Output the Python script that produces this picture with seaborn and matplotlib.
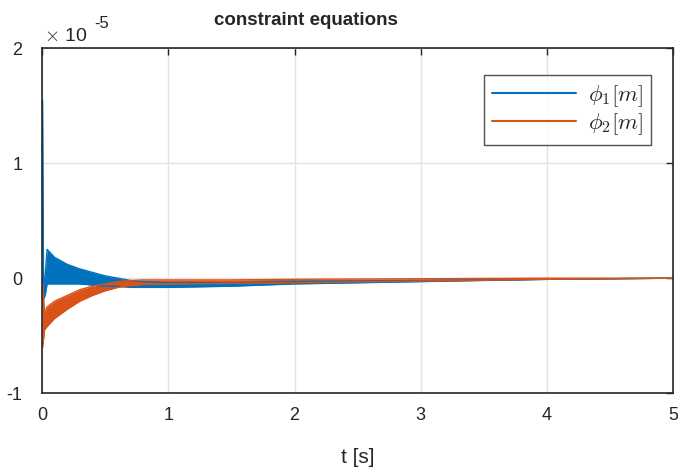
import pandas as pd
import matplotlib
matplotlib.use("Agg")
import matplotlib.pyplot as plt
import seaborn as sns
from matplotlib.lines import Line2D

# constraint residuals, in units of 1e-5 m, read as upper / lower envelope of the oscillation band
t_phi1 = [0, 0.004, 0.012, 0.025, 0.04, 0.1, 0.2, 0.3, 0.4, 0.5, 0.6, 0.7, 0.8, 1.0, 1.5, 2.0, 3.0, 4.0, 5.0]
phi1_hi = [1.55, 1.55, 0.0, 0.02, 0.25, 0.18, 0.12, 0.08, 0.05, 0.02, 0.0, -0.02, -0.03, -0.04, -0.04, -0.03, -0.02, -0.01, 0.0]
phi1_lo = [0.0, 0.0, -0.18, -0.15, -0.05, -0.05, -0.05, -0.05, -0.06, -0.07, -0.07, -0.08, -0.08, -0.08, -0.07, -0.05, -0.03, -0.01, 0.0]

t_phi2 = [0, 0.005, 0.02, 0.04, 0.1, 0.2, 0.3, 0.4, 0.5, 0.6, 0.7, 0.8, 1.0, 1.5, 2.0, 3.0, 4.0, 5.0]
phi2_hi = [-0.05, -0.05, -0.3, -0.25, -0.2, -0.15, -0.1, -0.07, -0.05, -0.03, -0.02, -0.015, -0.015, -0.015, -0.01, -0.005, 0.0, 0.0]
phi2_lo = [-0.6, -0.6, -0.45, -0.42, -0.35, -0.27, -0.2, -0.15, -0.11, -0.08, -0.065, -0.055, -0.05, -0.045, -0.04, -0.025, -0.01, 0.0]

series_names = [r"$\phi_1[m]$", r"$\phi_2[m]$"]
colors = ["#0072BD", "#D95319"]

x_ticks = [0, 1, 2, 3, 4, 5]
y_ticks = [-1, 0, 1, 2]

sns.set_theme(style="white")
plt.rcParams["font.family"] = ["Liberation Sans", "DejaVu Sans"]
plt.rcParams["mathtext.fontset"] = "cm"

fig = plt.figure(figsize=(6.78, 4.72), dpi=100)
ax = fig.add_axes([0.062, 0.167, 0.931, 0.731])

for t, hi, lo, col in [(t_phi1, phi1_hi, phi1_lo, colors[0]),
                       (t_phi2, phi2_hi, phi2_lo, colors[1])]:
    df = pd.DataFrame({"t": t + t, "val": hi + lo,
                       "edge": ["hi"] * len(t) + ["lo"] * len(t)})
    sns.lineplot(data=df, x="t", y="val", units="edge", estimator=None,
                 color=col, lw=1.0, ax=ax, legend=False)
    ax.fill_between(t, lo, hi, color=col, lw=0)

ax.set_xlim(0, 5)
ax.set_ylim(-1, 2)
ax.set_xticks(x_ticks)
ax.set_yticks(y_ticks)
ax.set_xticklabels([str(v) for v in x_ticks])
ax.set_yticklabels([str(v) for v in y_ticks])
ax.grid(True, color="#e3e3e3", lw=1)
ax.tick_params(direction="in", length=5, width=1, colors="#262626",
               labelsize=13, top=True, right=True)
ax.tick_params(axis="x", pad=10)
ax.tick_params(axis="y", pad=14)
for s in ax.spines.values():
    s.set_color("#262626")
    s.set_linewidth(1.2)

ax.set_xlabel("t [s]", fontsize=15, color="#262626", labelpad=17)
ax.set_ylabel("")
ax.text(0.418, 1.055, "constraint equations", transform=ax.transAxes,
        fontsize=13.5, fontweight="bold", ha="center", va="bottom")

# exponent label in the MATLAB style
ax.text(0.003, 1.008, r"$\times$ 10", transform=ax.transAxes, fontsize=14,
        color="#262626", ha="left", va="bottom")
ax.text(0.083, 1.05, "-5", transform=ax.transAxes, fontsize=12,
        color="#262626", ha="left", va="bottom")

handles = [Line2D([0], [0], color=c, lw=1.5) for c in colors]
leg = ax.legend(handles, series_names, loc="upper right",
                bbox_to_anchor=(0.965, 0.922), borderaxespad=0, fontsize=16.5,
                frameon=True, fancybox=False, edgecolor="#262626",
                handlelength=3.7, borderpad=0.35, labelspacing=0.1,
                handletextpad=0.5)
leg.get_frame().set_linewidth(1.0)

fig.savefig("out.png", dpi=100)
